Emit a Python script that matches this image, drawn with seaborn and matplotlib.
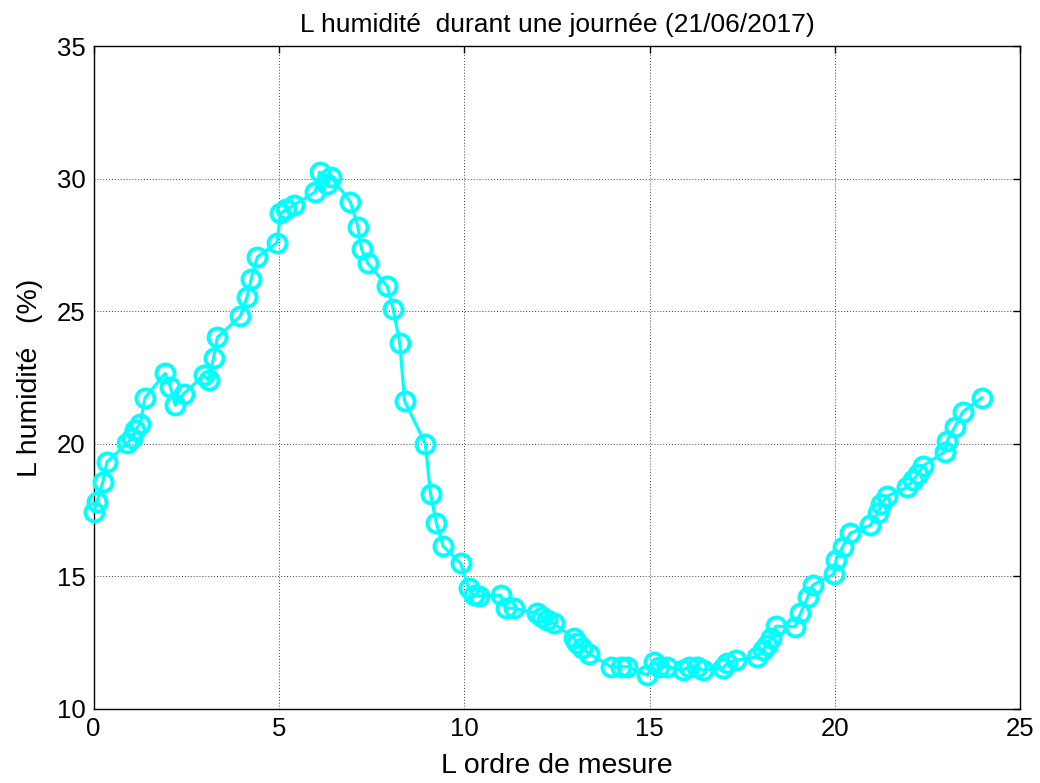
import matplotlib
matplotlib.use("Agg")
import matplotlib.pyplot as plt
import seaborn as sns
import pandas as pd

# Measurement order (hour.minute style readings) and relative humidity in %
ordre = [
    0.00, 0.09, 0.25, 0.36,
    0.90, 1.03, 1.12, 1.26, 1.39,
    1.93, 2.07, 2.20, 2.43,
    2.97, 3.10, 3.24, 3.34,
    3.96, 4.14, 4.25, 4.42,
    4.95, 5.04, 5.20, 5.40,
    5.98, 6.10, 6.30, 6.40,
    6.93, 7.13, 7.23, 7.40,
    7.92, 8.08, 8.26, 8.39,
    8.95, 9.09, 9.25, 9.43,
    9.90, 10.12, 10.25, 10.39,
    10.98, 11.12, 11.33,
    11.97, 12.11, 12.24, 12.41,
    12.96, 13.05, 13.19, 13.37,
    13.95, 14.22, 14.40,
    14.94, 15.12, 15.26, 15.48,
    15.89, 16.07, 16.29, 16.43,
    16.97, 17.10, 17.33,
    17.91, 18.05, 18.18, 18.27, 18.41,
    18.92, 19.07, 19.27, 19.40,
    19.97, 20.03, 20.21, 20.42,
    20.96, 21.16, 21.25, 21.41,
    21.95, 22.10, 22.24, 22.37,
    22.96, 23.03, 23.23, 23.45,
    23.97,
]
humidite = [
    17.43, 17.80, 18.56, 19.31,
    20.01, 20.20, 20.51, 20.76, 21.74,
    22.65, 22.14, 21.45, 21.89,
    22.58, 22.40, 23.25, 24.01,
    24.81, 25.54, 26.20, 27.05,
    27.58, 28.69, 28.84, 29.00,
    29.50, 30.25, 29.79, 30.08,
    29.12, 28.18, 27.33, 26.80,
    25.94, 25.10, 23.80, 21.62,
    19.99, 18.11, 16.99, 16.13,
    15.49, 14.55, 14.28, 14.25,
    14.28, 13.79, 13.79,
    13.59, 13.44, 13.34, 13.22,
    12.65, 12.46, 12.27, 12.08,
    11.58, 11.58, 11.58,
    11.26, 11.77, 11.58, 11.58,
    11.45, 11.58, 11.58, 11.45,
    11.52, 11.71, 11.83,
    11.95, 12.21, 12.40, 12.65, 13.11,
    13.09, 13.59, 14.22, 14.66,
    15.08, 15.60, 16.11, 16.63,
    16.92, 17.37, 17.72, 18.02,
    18.35, 18.62, 18.85, 19.15,
    19.69, 20.11, 20.61, 21.20,
    21.74,
]

x_ticks = [0, 5, 10, 15, 20, 25]
y_ticks = [10, 15, 20, 25, 30, 35]

titre = "L humidité  durant une journée (21/06/2017)"
label_x = "L ordre de mesure"
label_y = "L humidité   (%)"

sns.set_style("white")
plt.rcParams["font.family"] = ["Liberation Sans", "DejaVu Sans"]
plt.rcParams["text.color"] = "black"
plt.rcParams["axes.labelcolor"] = "black"

df = pd.DataFrame({"ordre": ordre, "humidite": humidite})

fig = plt.figure(figsize=(10.4, 7.83), dpi=100)
ax = fig.add_axes([0.09, 0.095, 0.891, 0.846])

sns.lineplot(
    data=df, x="ordre", y="humidite", ax=ax, sort=False, estimator=None,
    color="#00FFFF", linewidth=2.3, marker="o", markersize=13,
    markerfacecolor="none", markeredgecolor="#00FFFF", markeredgewidth=2.8,
    clip_on=False, zorder=3,
)

ax.set_xlim(0, 25)
ax.set_ylim(10, 35)
ax.set_xticks(x_ticks)
ax.set_yticks(y_ticks)
ax.grid(True, color="#404040", linestyle=(0, (1, 2)), linewidth=0.7)
ax.set_axisbelow(True)
for sp in ax.spines.values():
    sp.set_visible(True)
    sp.set_color("black")
    sp.set_linewidth(1.0)
ax.tick_params(direction="in", length=5, width=1, top=True, right=True,
               labelsize=18.5, colors="black", labelcolor="black", pad=6)

ax.set_title(titre, fontsize=19, pad=10, color="black")
ax.set_xlabel(label_x, fontsize=20.5, labelpad=9, color="black")
ax.set_ylabel(label_y, fontsize=20.5, labelpad=10, color="black")

fig.savefig("out.png", dpi=100, facecolor="white")
